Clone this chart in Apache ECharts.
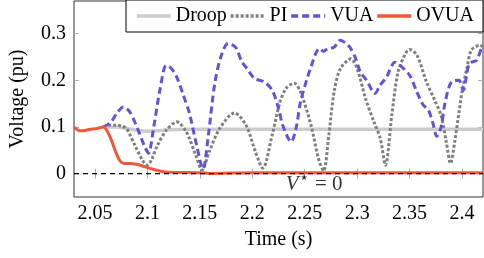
<!DOCTYPE html>
<html><head><meta charset="utf-8">
<script src="https://cdn.jsdelivr.net/npm/echarts@6/dist/echarts.min.js"></script>
<style>html,body{margin:0;padding:0;background:#fff}#c{width:484px;height:258px}</style>
</head><body><div id="c"></div>
<script>
const xTicks = [2.05,2.1,2.15,2.2,2.25,2.3,2.35,2.4];
const yTicks = [0,0.1,0.2,0.3];

const droopT = [2.058,2.07,2.08,2.09,2.1,2.11,2.12,2.14,2.2,2.3,2.42];
const droopV = [0.1,0.1,0.097,0.093,0.091,0.092,0.094,0.095,0.095,0.095,0.095];

const piT = [2.058,2.064,2.07,2.075,2.08,2.088,2.096,2.1,2.104,2.109,2.118,2.128,2.137,2.146,2.152,2.159,2.169,2.183,2.194,2.203,2.21,2.219,2.226,2.232,2.24,2.246,2.256,2.263,2.268,2.273,2.278,2.284,2.294,2.3,2.308,2.316,2.322,2.327,2.333,2.339,2.346,2.35,2.357,2.366,2.374,2.38,2.385,2.389,2.393,2.4,2.405,2.409,2.417,2.42];
const piV = [0.1,0.104,0.104,0.102,0.097,0.061,0.026,0.018,0.03,0.058,0.093,0.111,0.09,0.04,0.008,0.047,0.097,0.13,0.104,0.047,0.012,0.083,0.15,0.182,0.194,0.175,0.104,0.033,0.006,0.083,0.175,0.225,0.246,0.225,0.161,0.111,0.076,0.018,0.125,0.218,0.257,0.266,0.254,0.197,0.157,0.125,0.068,0.022,0.068,0.175,0.23,0.265,0.275,0.272];

const vuaT = [2.058,2.065,2.071,2.077,2.083,2.09,2.097,2.101,2.106,2.112,2.118,2.123,2.128,2.134,2.14,2.147,2.153,2.158,2.164,2.17,2.177,2.184,2.19,2.195,2.202,2.211,2.219,2.225,2.229,2.237,2.242,2.246,2.256,2.264,2.268,2.272,2.278,2.284,2.289,2.293,2.298,2.303,2.309,2.317,2.322,2.328,2.336,2.341,2.35,2.357,2.363,2.368,2.372,2.376,2.38,2.384,2.39,2.397,2.401,2.407,2.414,2.419,2.42];
const vuaV = [0.1,0.11,0.13,0.143,0.133,0.1,0.06,0.044,0.1,0.18,0.232,0.225,0.207,0.17,0.13,0.06,0.01,0.08,0.19,0.25,0.279,0.271,0.24,0.225,0.204,0.197,0.179,0.14,0.104,0.068,0.1,0.154,0.229,0.268,0.262,0.268,0.271,0.286,0.28,0.271,0.25,0.218,0.2,0.172,0.19,0.207,0.239,0.232,0.211,0.175,0.147,0.136,0.11,0.08,0.1,0.154,0.197,0.2,0.179,0.236,0.243,0.268,0.265];

const ovuaT = [2.03,2.034,2.038,2.045,2.052,2.058,2.062,2.066,2.07,2.074,2.078,2.083,2.09,2.096,2.1,2.106,2.113,2.12,2.15,2.16,2.2,2.3,2.42];
const ovuaV = [0.1,0.093,0.092,0.095,0.097,0.1,0.09,0.07,0.045,0.027,0.022,0.022,0.02,0.016,0.013,0.009,0.005,0.003,0.002,0.0005,0.002,0.002,0.002];

const refT = [2.03,2.42];
const refV = [0,0];
const labelT = [2.259];
const labelV = [-0.024];

const zip = (a,b) => a.map((x,i)=>[x,b[i]]);
const FONT = "Liberation Serif";
const chart = echarts.init(document.getElementById('c'));
const tickStyle = {show:true, inside:true, length:5, lineStyle:{color:'#b0b0b0', width:1}};
chart.setOption({
  animation:false,
  backgroundColor:'#fff',
  grid:{left:72, right:1, top:1, bottom:61, show:true, borderColor:'#333', borderWidth:1},
  legend:{
    top:0, right:1, padding:[6,9,6,9], itemGap:2, itemWidth:34, itemHeight:20,
    borderColor:'#000', borderWidth:1, backgroundColor:'#fff', borderRadius:0,
    itemStyle:{color:'transparent', borderWidth:0, opacity:0},
    lineStyle:{width:3.5},
    textStyle:{fontFamily:FONT, fontSize:20, color:'#000'},
    data:['Droop','PI','VUA','OVUA']
  },
  xAxis:[{
    type:'value', min:2.03, max:2.42, position:'bottom',
    axisLine:{show:false}, splitLine:{show:false},
    axisLabel:{fontFamily:FONT, fontSize:20, color:'#000', margin:7,
      customValues: xTicks, formatter:v=>String(+v.toFixed(2))},
    axisTick:Object.assign({customValues:xTicks}, tickStyle),
    name:'Time (s)', nameLocation:'middle', nameGap:33,
    nameTextStyle:{fontFamily:FONT, fontSize:20, color:'#000'}
  },{
    type:'value', min:2.03, max:2.42, position:'top',
    axisLine:{show:false}, splitLine:{show:false},
    axisLabel:{show:false}, axisTick:Object.assign({customValues:xTicks}, tickStyle)
  }],
  yAxis:[{
    type:'value', min:-0.05, max:0.37, position:'left',
    axisLine:{show:false}, splitLine:{show:false},
    axisTick:Object.assign({customValues:yTicks}, tickStyle),
    axisLabel:{fontFamily:FONT, fontSize:20, color:'#000', margin:8,
      customValues:yTicks, formatter:v=>String(+v.toFixed(2))},
    name:'Voltage (pu)', nameLocation:'middle', nameGap:46, nameRotate:90,
    nameTextStyle:{fontFamily:FONT, fontSize:20, color:'#000'}
  },{
    type:'value', min:-0.05, max:0.37, position:'right',
    axisLine:{show:false}, splitLine:{show:false}, axisLabel:{show:false},
    axisTick:Object.assign({customValues:yTicks}, tickStyle)
  }],
  series:[
    {name:'Droop', type:'line', data:zip(droopT,droopV), showSymbol:false, symbol:'none', smooth:0.3,
      lineStyle:{color:'#cccccc', width:3.5}, itemStyle:{color:'#cccccc'}},
    {name:'PI', type:'line', data:zip(piT,piV), showSymbol:false, symbol:'none', smooth:0.3,
      lineStyle:{color:'#808080', width:3, type:[3,2]}, itemStyle:{color:'#808080'}},
    {name:'VUA', type:'line', data:zip(vuaT,vuaV), showSymbol:false, symbol:'none', smooth:0.3,
      lineStyle:{color:'#6650dc', width:3, type:[7,4]}, itemStyle:{color:'#6650dc'}},
    {name:'OVUA', type:'line', data:zip(ovuaT,ovuaV), showSymbol:false, symbol:'none', smooth:0.3,
      lineStyle:{color:'#f0583a', width:3}, itemStyle:{color:'#f0583a'}},
    {name:'ref', type:'line', data:zip(refT,refV), showSymbol:false, symbol:'none',
      lineStyle:{color:'#000', width:1.3, type:[5,4]}, silent:true},
    {name:'lbl', type:'scatter', data:zip(labelT,labelV), symbolSize:0, silent:true,
      label:{show:true, position:'inside', formatter:'{v|V}{s|★}{t| = 0}',
        rich:{v:{fontFamily:FONT, fontSize:21, fontStyle:'italic', color:'#000', verticalAlign:'bottom'},
              s:{fontFamily:'DejaVu Sans', fontSize:8, color:'#000', verticalAlign:'top', padding:[0,2,0,2]},
              t:{fontFamily:FONT, fontSize:21, color:'#000', verticalAlign:'bottom'}}}}
  ]
});
</script></body></html>
